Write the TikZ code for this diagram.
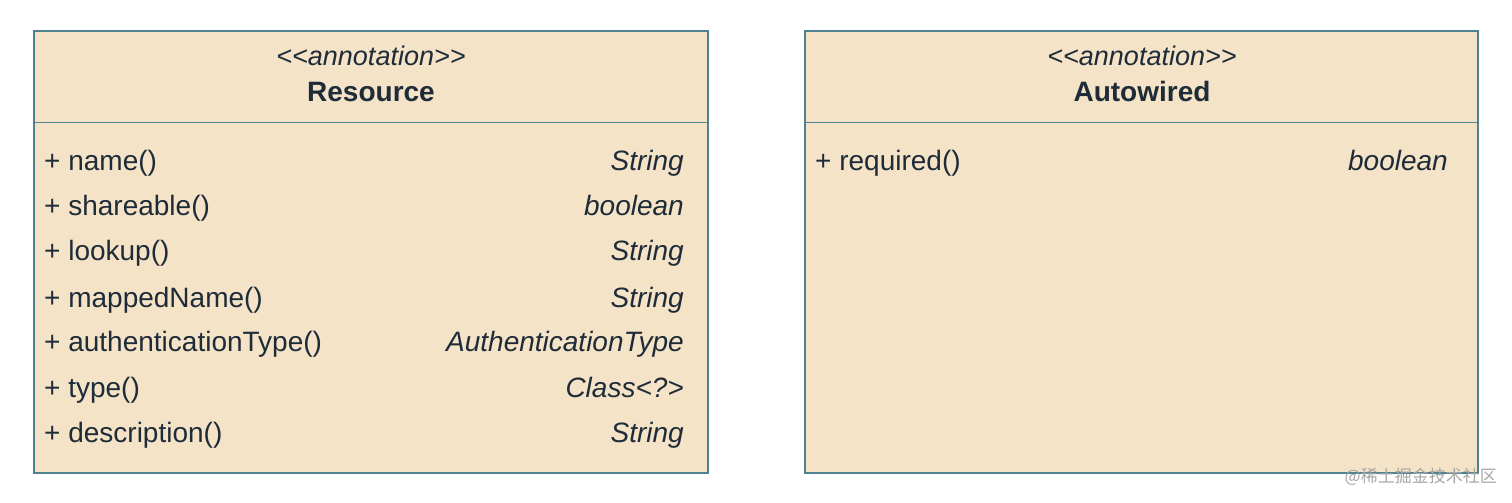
\documentclass[tikz,border=0pt]{standalone}
\usepackage{fontspec}
\setmainfont{Liberation Sans}
\newfontfamily\cjk{Noto Sans CJK SC}
\definecolor{boxfill}{HTML}{F4E3C7}
\definecolor{boxline}{HTML}{4E8290}
\definecolor{txt}{HTML}{1E2B38}
\begin{document}
\begin{tikzpicture}[x=1pt,y=-1pt,
  cls/.style={draw=boxline,line width=1.2pt,fill=boxfill},
  mem/.style={anchor=base west,font=\fontsize{28}{32}\selectfont,text=txt,inner sep=0},
  typ/.style={anchor=base east,font=\fontsize{28}{32}\selectfont\itshape,text=txt,inner sep=0},
  stereo/.style={anchor=base,font=\fontsize{27}{32}\selectfont\itshape,text=txt,inner sep=0},
  title/.style={anchor=base,font=\fontsize{28}{32}\selectfont\bfseries,text=txt,inner sep=0}]
\useasboundingbox (0,0) rectangle (1512,503);
% Resource
\draw[cls] (34,31) rectangle (708,473);
\draw[boxline,line width=0.8pt] (34,122) -- (708,122);
\node[stereo] (rs) at (371,66) {<{}<annotation>{}>};
\node[title] (rt) at (371,101) {Resource};
\foreach \y/\m/\t in {160/name()/String,205/shareable()/boolean,250/lookup()/String,297/mappedName()/String,341/authenticationType()/AuthenticationType,387/type()/Class<?>,432/description()/String}{
  \node[mem] at (44,\y+10) {+ \m};
  \node[typ] at (684,\y+10) {\t};
}
% Autowired
\draw[cls] (805,31) rectangle (1478,473);
\draw[boxline,line width=0.8pt] (805,122) -- (1478,122);
\node[stereo] (as) at (1142,66) {<{}<annotation>{}>};
\node[title] (at) at (1142,101) {Autowired};
\node[mem] at (815,170) {+ required()};
\node[typ] at (1448,170) {boolean};
\node[anchor=east,font=\cjk\fontsize{17}{20}\selectfont,text=black!35,inner sep=0] (wm) at (1497,477) {@稀土掘金技术社区};
\end{tikzpicture}
\end{document}
